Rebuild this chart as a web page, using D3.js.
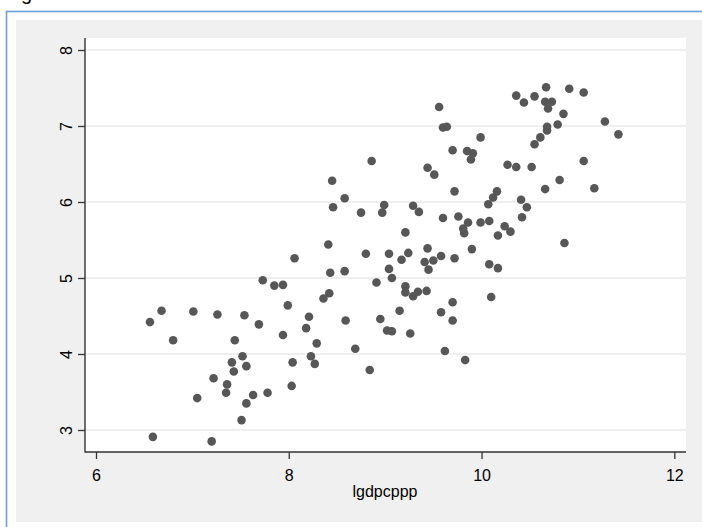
<!DOCTYPE html>
<html>
<head>
<meta charset="utf-8">
<script src="https://cdn.jsdelivr.net/npm/d3@7"></script>
<style>
  body { margin: 0; background: #fff; }
  svg { display: block; }
  text { font-family: Arial, "Liberation Sans", sans-serif; fill: #000; }
</style>
</head>
<body>
<div id="chart"></div>
<script>
// lgdpcppp (x) against the y variable
var lgdpcppp = [
  8.41, 8.06, 8.43, 7.73, 7.85, 7.94, 8.36, 8.42, 7.99, 6.68,
  6.56, 7.01, 7.26, 7.54, 7.69, 8.21, 8.18, 7.94, 6.80, 7.44,
  8.29, 7.52, 7.41, 7.56, 7.43, 8.04, 8.23, 8.27, 7.22, 7.36,
  7.35, 7.05, 7.63, 7.78, 7.56, 8.03, 7.51, 6.59, 7.20,
  9.21, 9.82, 10.17, 10.30, 8.80, 9.04, 9.24, 9.17, 9.44, 9.41,
  9.45, 9.50, 9.58, 9.72, 9.90, 10.08, 10.17, 8.58, 9.04, 9.07,
  8.91, 9.21, 9.21, 9.29, 9.34, 9.43, 10.10, 9.70, 9.58, 9.70,
  9.15, 8.95, 8.59, 9.02, 9.07, 9.26, 8.69, 9.62, 9.83, 8.84,
  10.36, 9.56, 9.60, 9.64, 9.99, 9.70, 9.85, 9.91, 9.89, 8.86,
  10.27, 10.36, 8.45, 9.44, 9.51, 9.72, 10.16, 10.07, 10.12, 8.58,
  8.46, 8.99, 8.97, 8.75, 9.29, 9.35, 9.60, 9.76, 9.86, 9.81,
  9.99, 10.08, 10.24,
  10.44, 10.55, 10.67, 10.66, 10.73, 10.69, 10.91, 11.06, 10.85, 11.28,
  11.42, 10.79, 10.68, 10.68, 10.61, 10.55, 11.06, 10.52, 10.81, 10.66,
  11.17, 10.41, 10.47, 10.42, 10.86
];
var yvar = [
  5.44, 5.26, 5.07, 4.97, 4.90, 4.91, 4.73, 4.80, 4.64, 4.57,
  4.42, 4.56, 4.52, 4.51, 4.39, 4.49, 4.34, 4.25, 4.18, 4.18,
  4.14, 3.97, 3.89, 3.84, 3.77, 3.89, 3.97, 3.87, 3.68, 3.60,
  3.49, 3.42, 3.46, 3.49, 3.35, 3.58, 3.13, 2.91, 2.85,
  5.60, 5.59, 5.56, 5.61, 5.32, 5.32, 5.33, 5.24, 5.39, 5.21,
  5.11, 5.23, 5.29, 5.26, 5.38, 5.18, 5.13, 5.09, 5.12, 5.00,
  4.94, 4.89, 4.81, 4.76, 4.82, 4.83, 4.75, 4.68, 4.55, 4.44,
  4.57, 4.46, 4.44, 4.31, 4.30, 4.27, 4.07, 4.04, 3.92, 3.79,
  7.40, 7.25, 6.98, 6.99, 6.85, 6.68, 6.67, 6.64, 6.56, 6.54,
  6.49, 6.46, 6.28, 6.45, 6.36, 6.14, 6.14, 5.97, 6.06, 6.05,
  5.93, 5.96, 5.86, 5.86, 5.95, 5.87, 5.79, 5.81, 5.73, 5.65,
  5.73, 5.75, 5.68,
  7.31, 7.39, 7.51, 7.32, 7.32, 7.23, 7.49, 7.44, 7.16, 7.06,
  6.89, 7.02, 6.99, 6.94, 6.85, 6.76, 6.54, 6.46, 6.29, 6.17,
  6.18, 6.03, 5.93, 5.80, 5.46
];
var xTicks = [6, 8, 10, 12];
var yTicks = [3, 4, 5, 6, 7, 8];
var xTitle = "lgdpcppp";

var width = 702, height = 527;
var plot = {left: 85, top: 38, right: 686, bottom: 452};

var svg = d3.select("#chart").append("svg")
    .attr("width", width)
    .attr("height", height);

svg.append("rect").attr("width", width).attr("height", height).attr("fill", "#fff");

// text cut off at the very top, as in the picture
svg.append("text")
    .attr("x", 21).attr("y", 0)
    .style("font-size", "20px")
    .text("g");

// blue outer frame (runs off the right and bottom)
svg.append("rect")
    .attr("x", 6.5).attr("y", 11.5)
    .attr("width", 720).attr("height", 540)
    .attr("fill", "none")
    .attr("stroke", "#6a9fd8")
    .attr("stroke-width", 1.6);

// grey graph region
svg.append("rect")
    .attr("x", 16).attr("y", 20)
    .attr("width", 700).attr("height", 502)
    .attr("fill", "#f0f0f0");

// white plot region
svg.append("rect")
    .attr("x", plot.left).attr("y", plot.top)
    .attr("width", plot.right - plot.left).attr("height", plot.bottom - plot.top)
    .attr("fill", "#fff");

var x = d3.scaleLinear().domain([6, 12]).range([96, 674.3]);
var y = d3.scaleLinear().domain([3, 8]).range([430, 50]);

// grid
svg.append("g").selectAll("line")
    .data(yTicks)
    .enter().append("line")
    .attr("x1", plot.left).attr("x2", plot.right)
    .attr("y1", function(d){return y(d);})
    .attr("y2", function(d){return y(d);})
    .attr("stroke", "#eaeaea")
    .attr("stroke-width", 1.5);

// axes
var yAxis = svg.append("g")
    .attr("transform", "translate(" + plot.left + ",0)")
    .call(d3.axisLeft(y).tickValues(yTicks).tickSize(7).tickFormat(d3.format("d")));
var xAxis = svg.append("g")
    .attr("transform", "translate(0," + plot.bottom + ")")
    .call(d3.axisBottom(x).tickValues(xTicks).tickSize(7).tickFormat(d3.format("d")));

[yAxis, xAxis].forEach(function(a){
    a.select(".domain").remove();
    a.selectAll(".tick line").attr("stroke", "#333").attr("stroke-width", 1.3);
    a.selectAll(".tick text")
        .style("font-size", "16px")
        .style("font-family", "Arial, 'Liberation Sans', sans-serif")
        .attr("fill", "#000");
});

yAxis.selectAll(".tick text")
    .attr("x", null).attr("dy", null)
    .attr("text-anchor", "middle")
    .attr("transform", "translate(-13,0) rotate(-90)")
    .attr("y", 0);

xAxis.selectAll(".tick text")
    .attr("dy", null)
    .attr("y", 29);

svg.append("line")
    .attr("x1", plot.left).attr("x2", plot.left)
    .attr("y1", plot.top).attr("y2", plot.bottom + 0.6)
    .attr("stroke", "#333").attr("stroke-width", 1.4);
svg.append("line")
    .attr("x1", plot.left).attr("x2", plot.right)
    .attr("y1", plot.bottom).attr("y2", plot.bottom)
    .attr("stroke", "#333").attr("stroke-width", 1.4);

svg.append("text")
    .attr("x", 385).attr("y", 496.5)
    .attr("text-anchor", "middle")
    .style("font-size", "16px")
    .text(xTitle);

// points
svg.append("g").selectAll("circle")
    .data(lgdpcppp)
    .enter().append("circle")
    .attr("cx", function(d){return x(d);})
    .attr("cy", function(d, i){return y(yvar[i]);})
    .attr("r", 4.3)
    .attr("fill", "#575757");
</script>
</body>
</html>
